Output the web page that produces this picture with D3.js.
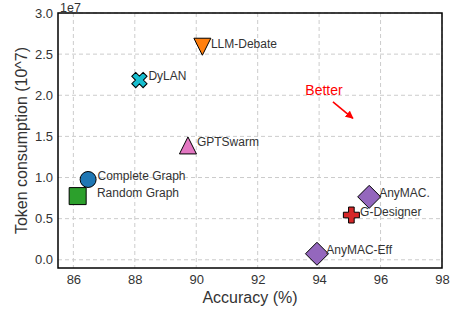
<!DOCTYPE html>
<html><head><meta charset="utf-8">
<script src="https://cdn.jsdelivr.net/npm/d3@7"></script>
<style>
body{margin:0;background:#fff;}
text{font-family:"Liberation Sans",Arial,sans-serif;}
</style></head>
<body><svg id="c" width="456" height="309"></svg>
<script>
const methods = ["LLM-Debate","DyLAN","GPTSwarm","Complete Graph","Random Graph","AnyMAC.","G-Designer","AnyMAC-Eff"];
const accuracy = [90.2, 88.15, 89.73, 86.48, 86.14, 95.63, 95.05, 93.93];
const tokens = [2.59e7, 2.185e7, 1.39e7, 0.976e7, 0.774e7, 0.765e7, 0.544e7, 0.073e7];
const shapes = ["triDown","cross","triUp","circle","square","diamond","plus","diamond"];
const colors = ["#ff7f0e","#17becf","#e377c2","#1f77b4","#2ca02c","#9467bd","#d62728","#9467bd"];
const labelDx = [8.5, 9, 9, 9.4, 19.3, 10, 8.7, 9.3];
const labelDy = [-3, -4, -4, -3.6, -3.7, -4, -3.3, -4];
const xTicks = [86,88,90,92,94,96,98];
const yTicks = [0,0.5e7,1e7,1.5e7,2e7,2.5e7,3e7];

const svg = d3.select("#c");
const L=58,R=442,T=13,B=268;
const x = d3.scaleLinear().domain([85.5,98]).range([L,R]);
const y = d3.scaleLinear().domain([-0.1e7,3.0e7]).range([B,T]);

// grid
svg.append("g").selectAll("line").data(xTicks).join("line")
 .attr("x1",d=>x(d)).attr("x2",d=>x(d)).attr("y1",T).attr("y2",B)
 .attr("stroke","#cccccc").attr("stroke-width",1).attr("stroke-dasharray","4,3");
svg.append("g").selectAll("line").data(yTicks).join("line")
 .attr("y1",d=>y(d)).attr("y2",d=>y(d)).attr("x1",L).attr("x2",R)
 .attr("stroke","#cccccc").attr("stroke-width",1).attr("stroke-dasharray","4,3");

// axes
const xa = svg.append("g").attr("transform",`translate(0,${B})`)
 .call(d3.axisBottom(x).tickValues(xTicks).tickFormat(d3.format("d")).tickSize(0).tickPadding(7));
const ya = svg.append("g").attr("transform",`translate(${L},0)`)
 .call(d3.axisLeft(y).tickValues(yTicks).tickFormat(d=>(d/1e7).toFixed(1)).tickSize(0).tickPadding(5));
[xa,ya].forEach(a=>{a.select(".domain").remove();a.selectAll("text").attr("font-size",13).attr("fill","#333").style("font-family","Liberation Sans, Arial, sans-serif");});

svg.append("rect").attr("x",L).attr("y",T).attr("width",R-L).attr("height",B-T)
 .attr("fill","none").attr("stroke","#000").attr("stroke-width",1.5);

svg.append("text").attr("x",L+2).attr("y",T-1.5).attr("font-size",12.5).attr("fill","#333").text("1e7");

svg.append("text").attr("x",(L+R)/2).attr("y",303).attr("text-anchor","middle")
 .attr("font-size",16).attr("fill","#333").text("Accuracy (%)");
svg.append("text").attr("transform",`translate(27,${(T+B)/2}) rotate(-90)`).attr("text-anchor","middle")
 .attr("font-size",16).attr("fill","#333").text("Token consumption (10^7)");

// markers
function path(s){
  const r=8.5;
  switch(s){
    case "circle": return d3.symbol(d3.symbolCircle, Math.PI*8*8)();
    case "square": return `M${-r},${-r}H${r}V${r}H${-r}Z`;
    case "diamond": { const d=11.5; return `M0,${-d}L${d},0L0,${d}L${-d},0Z`; }
    case "triUp": return `M0,${-r}L${r},${r}L${-r},${r}Z`;
    case "triDown": return `M0,${r}L${r},${-r}L${-r},${-r}Z`;
    case "plus":
    case "cross": { const a=2.8,b=8; return `M${-a},${-b}H${a}V${-a}H${b}V${a}H${a}V${b}H${-a}V${a}H${-b}V${-a}H${-a}Z`; }
  }
}
const g = svg.append("g");
methods.forEach((m,i)=>{
  const cx=x(accuracy[i]), cy=y(tokens[i]);
  g.append("path").attr("d",path(shapes[i]))
   .attr("transform",`translate(${cx},${cy})`+(shapes[i]==="cross"?" rotate(45)":""))
   .attr("fill",colors[i]).attr("stroke","#000").attr("stroke-width",1);
  g.append("text").attr("x",cx+labelDx[i]).attr("y",cy+labelDy[i]).attr("dy","0.35em")
   .attr("font-size",12).attr("fill","#333").text(m);
});

// Better annotation
svg.append("defs").append("marker").attr("id","ah").attr("viewBox","0 0 10 10")
 .attr("refX",9).attr("refY",5).attr("markerWidth",5).attr("markerHeight",5).attr("orient","auto")
 .append("path").attr("d","M0,0L10,5L0,10Z").attr("fill","red");
svg.append("text").attr("x",324).attr("y",95).attr("text-anchor","middle").attr("font-size",14).attr("fill","red").text("Better");
svg.append("line").attr("x1",x(94.45)).attr("y1",y(1.92e7)).attr("x2",x(95.1)).attr("y2",y(1.72e7))
 .attr("stroke","red").attr("stroke-width",1.6).attr("marker-end","url(#ah)");
</script></body></html>
